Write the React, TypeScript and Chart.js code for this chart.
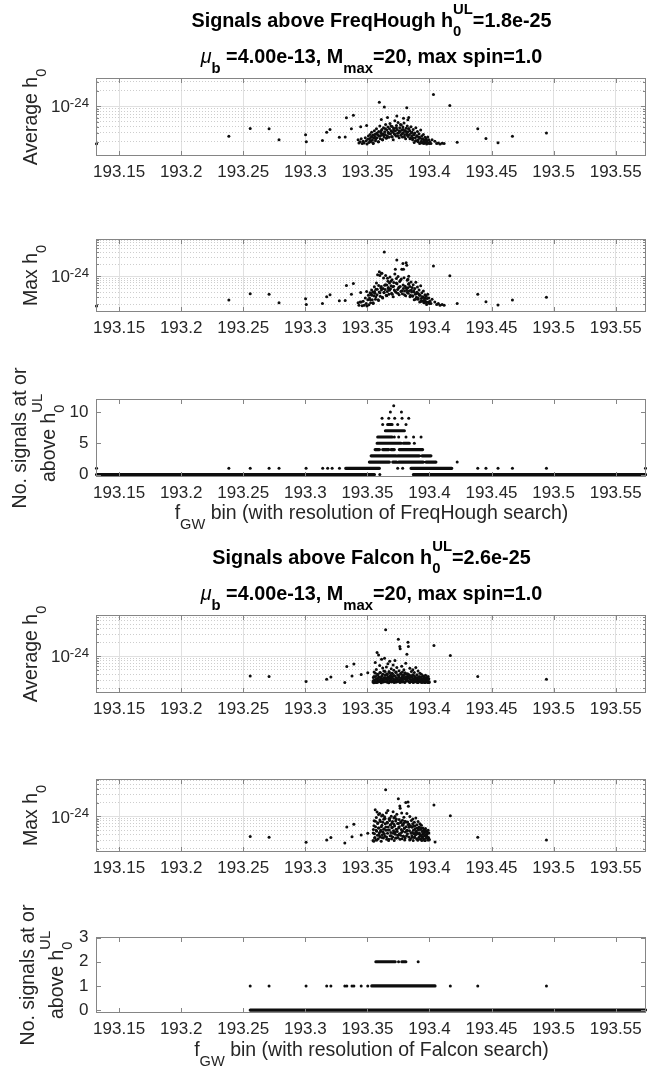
import React, { useEffect, useRef } from 'react';
import { Chart, registerables } from 'chart.js';

Chart.register(...registerables);

const FONT = '"Liberation Sans", Arial, Helvetica, sans-serif';
Chart.defaults.font.family = FONT;

// ---------- axis definitions ----------
const X_MIN = 193.1318;
const X_MAX = 193.574;
const X_TICKS = [193.15, 193.2, 193.25, 193.3, 193.35, 193.4, 193.45, 193.5, 193.55];
const X_TICK_LABELS = ['193.15', '193.2', '193.25', '193.3', '193.35', '193.4', '193.45', '193.5', '193.55'];
const LOG_GRID = [
  1e-25, 2e-25, 3e-25, 4e-25, 5e-25, 6e-25, 7e-25, 8e-25, 9e-25,
  1e-24, 2e-24, 3e-24, 4e-24, 5e-24, 6e-24, 7e-24, 8e-24, 9e-24,
];
const LOG_MAJOR = 1e-24;
const H0_UNIT = 1e-25; // h0 arrays below are in units of 1e-25

// ---------- FreqHough: per-bin average / max h0 ----------
const FH_F = [
  193.1318, 193.2384, 193.2556, 193.2708, 193.2788, 193.3002, 193.3008, 193.3138, 193.3172, 193.3199, 193.3274, 193.3321, 193.3331, 193.3371, 193.3387, 193.3446, 193.3494,
  193.3425, 193.3432, 193.3441, 193.3450, 193.3458, 193.3466, 193.3474, 193.3483, 193.3490, 193.3497, 193.3503,
  193.3508, 193.3512, 193.3517, 193.3521, 193.3526, 193.3530, 193.3534, 193.3539, 193.3543, 193.3547, 193.3552, 193.3556, 193.3560, 193.3565, 193.3569, 193.3573, 193.3578, 193.3582, 193.3587, 193.3591, 193.3595, 193.3600, 193.3604, 193.3608, 193.3613, 193.3617, 193.3621, 193.3626, 193.3630, 193.3634, 193.3639, 193.3643, 193.3647, 193.3652,
  193.3656, 193.3660, 193.3665, 193.3669, 193.3673, 193.3678, 193.3682, 193.3686, 193.3691, 193.3695, 193.3699, 193.3704, 193.3708, 193.3712, 193.3717, 193.3721, 193.3725, 193.3730, 193.3734, 193.3738, 193.3743, 193.3747, 193.3751, 193.3756, 193.3760, 193.3764, 193.3769, 193.3773, 193.3777, 193.3782, 193.3786, 193.3790, 193.3795, 193.3799, 193.3803, 193.3808, 193.3812, 193.3816, 193.3821, 193.3825, 193.3829, 193.3834, 193.3838, 193.3842, 193.3847, 193.3851,
  193.3856, 193.3860, 193.3864, 193.3869, 193.3873, 193.3877, 193.3882, 193.3886, 193.3890, 193.3895, 193.3899, 193.3903, 193.3908, 193.3912, 193.3916, 193.3921, 193.3925, 193.3929, 193.3934, 193.3938, 193.3942, 193.3947, 193.3951, 193.3955, 193.3960, 193.3964, 193.3968, 193.3973, 193.3977, 193.3981, 193.3986, 193.3990, 193.3994, 193.3999,
  193.4004, 193.4012, 193.4021, 193.4043, 193.4058, 193.4071, 193.4085, 193.4102, 193.4118,
  193.3596, 193.3636, 193.3737, 193.3817, 193.3612, 193.3662, 193.3791, 193.3826, 193.3833,
  193.4032, 193.4164, 193.4223, 193.4389, 193.4455, 193.4552, 193.4668, 193.4942,
  193.3524, 193.3535, 193.3546, 193.3557, 193.3568, 193.3579, 193.3590, 193.3601, 193.3611, 193.3623,
  193.3634, 193.3645, 193.3656, 193.3667, 193.3678, 193.3689, 193.3700, 193.3711, 193.3722, 193.3733,
  193.3744, 193.3755, 193.3766, 193.3777, 193.3788, 193.3799, 193.3810, 193.3821, 193.3832, 193.3843,
  193.3854, 193.3865, 193.3876, 193.3887, 193.3898, 193.3909, 193.3920, 193.3931, 193.3942, 193.3953,
  193.3964, 193.3975,
];
const FH_AVG = [
  1.83, 2.58, 3.65, 3.6, 2.19, 2.75, 2.0, 2.12, 3.09, 3.49, 2.47, 2.5, 5.93, 3.6, 6.67, 3.94, 4.2,
  2.2, 1.9, 2.0, 2.3, 1.85, 2.05, 1.9, 2.4, 2.1, 1.82, 2.25,
  2.6, 1.95, 2.3, 2.8, 2.0, 2.45, 3.1, 2.15, 2.7, 1.85, 2.35, 3.3, 2.55, 2.1, 2.9, 3.6, 2.4, 2.75, 2.0, 3.2, 2.6, 4.1, 2.3, 3.0, 2.7, 3.5, 2.2, 2.9, 3.8, 2.5, 3.15, 2.8, 4.4, 2.35,
  3.4, 2.65, 3.9, 3.0, 2.45, 3.6, 4.6, 2.9, 3.3, 2.55, 4.0, 3.1, 2.2, 3.7, 2.85, 5.2, 3.25, 2.6, 4.2, 3.5, 2.95, 4.8, 3.0, 2.4, 3.8, 3.2, 2.7, 4.3, 3.45, 2.5, 3.9, 3.05, 4.7, 2.75, 3.35, 2.3, 3.7, 2.9, 4.1, 3.15, 2.55, 3.6, 2.8, 3.3, 2.35, 3.95,
  2.6, 3.1, 2.2, 3.5, 2.75, 1.95, 3.0, 2.4, 3.8, 2.1, 2.65, 3.2, 2.0, 2.5, 2.9, 1.85, 2.35, 3.4, 2.05, 2.6, 1.9, 2.25, 2.8, 1.85, 2.15, 2.45, 1.95, 2.3, 1.82, 2.1, 2.5, 1.9, 2.2, 1.85,
  2.0, 1.85, 2.2, 2.05, 1.85, 1.9, 1.82, 1.88, 1.85,
  12.0, 9.7, 6.4, 9.3, 5.5, 6.0, 5.8, 5.4, 6.0,
  16.9, 10.3, 1.97, 3.6, 2.32, 1.92, 2.58, 3.0,
  2.1, 2.5, 1.9, 2.8, 2.3, 3.0, 2.0, 2.6, 3.3, 2.2,
  2.7, 3.6, 2.4, 3.1, 2.9, 4.1, 2.5, 3.4, 2.8, 3.8,
  2.6, 3.3, 4.4, 2.9, 3.5, 2.5, 3.2, 2.7, 3.6, 2.3,
  3.0, 2.4, 2.8, 2.1, 2.6, 2.2, 2.45, 1.95, 2.3, 2.0,
  2.15, 1.9,
];
const FH_MAX = [
  1.83, 2.58, 3.7, 3.6, 2.19, 2.75, 2.0, 2.12, 3.09, 3.49, 2.47, 2.5, 5.93, 3.6, 6.67, 3.94, 4.2,
  2.2, 1.9, 2.3, 2.3, 1.85, 2.4, 1.9, 2.9, 2.1, 1.82, 2.6,
  3.4, 1.95, 2.9, 3.9, 2.2, 3.6, 4.6, 2.6, 4.0, 2.1, 3.3, 5.5, 3.8, 2.7, 4.8, 6.8, 3.5, 11.0, 2.6, 5.9, 4.1, 10.5, 3.2, 5.2, 4.6, 12.0, 3.0, 5.0, 9.1, 3.9, 6.0, 4.7, 10.5, 3.4,
  6.1, 4.2, 7.5, 5.3, 3.6, 6.8, 9.6, 4.9, 5.8, 3.8, 8.2, 5.5, 3.1, 7.0, 4.6, 11.5, 15.0, 4.0, 8.8, 6.5, 4.7, 9.9, 5.1, 3.5, 7.4, 5.6, 4.2, 8.6, 15.0, 3.7, 21.0, 5.0, 9.2, 4.3, 5.7, 3.3, 22.0, 4.6, 8.0, 5.2, 3.8, 6.6, 4.4, 5.6, 3.4, 7.2,
  4.1, 5.3, 3.2, 6.2, 4.4, 2.6, 5.0, 3.6, 7.1, 3.0, 4.0, 5.4, 2.7, 3.7, 4.6, 2.3, 3.4, 5.8, 2.8, 3.9, 2.4, 3.1, 4.3, 2.2, 2.9, 3.5, 2.4, 3.2, 2.0, 2.8, 3.6, 2.3, 2.9, 2.1,
  2.4, 2.1, 2.7, 2.3, 2.0, 2.1, 1.9, 2.0, 1.9,
  13.0, 40.7, 25.5, 19.0, 12.0, 9.0, 15.0, 8.5, 10.0,
  18.0, 10.3, 2.1, 3.6, 2.32, 1.92, 2.58, 3.0,
  2.6, 3.4, 2.2, 4.2, 3.1, 4.8, 2.5, 3.9, 5.6, 2.9,
  4.0, 6.2, 3.3, 5.0, 4.5, 7.6, 3.6, 5.7, 4.3, 6.8,
  3.8, 5.4, 8.0, 4.4, 6.1, 3.5, 5.2, 4.0, 6.4, 3.1,
  4.6, 3.3, 4.1, 2.7, 3.8, 2.9, 3.4, 2.4, 3.0, 2.5,
  2.8, 2.2,
];

// FreqHough: number of signals per bin. Runs of adjacent bins [from, to, count] and single bins [f, count]
const FH_COUNT_RUNS = [
  [193.1318, 193.3557, 0], [193.3870, 193.5740, 0],
  [193.3325, 193.3597, 1], [193.3851, 193.4180, 1],
  [193.3516, 193.3677, 2], [193.3704, 193.3735, 2], [193.3752, 193.3950, 2], [193.3972, 193.4052, 2],
  [193.3530, 193.3731, 3], [193.3744, 193.3918, 3], [193.3940, 193.4012, 3],
  [193.3562, 193.3597, 4], [193.3623, 193.3671, 4], [193.3690, 193.3717, 4], [193.3757, 193.3945, 4],
  [193.3578, 193.3771, 5], [193.3790, 193.3838, 5],
  [193.3583, 193.3699, 6],
  [193.3645, 193.3798, 7],
  [193.3663, 193.3699, 8],
];
const FH_COUNT_DOTS = [
  [193.3600, 0],
  [193.1318, 1], [193.2384, 1], [193.2556, 1], [193.2708, 1], [193.2788, 1], [193.3006, 1], [193.3140, 1], [193.3180, 1], [193.3216, 1], [193.3275, 1],
  [193.3744, 1], [193.3784, 1], [193.4389, 1], [193.4455, 1], [193.4552, 1], [193.4668, 1], [193.4942, 1], [193.5740, 1],
  [193.4223, 2],
  [193.3878, 5],
  [193.3717, 6], [193.3752, 6], [193.3811, 6], [193.3872, 6], [193.3932, 6],
  [193.3623, 8], [193.3744, 8], [193.3811, 8],
  [193.3618, 9], [193.3672, 9], [193.3720, 9], [193.3779, 9], [193.3833, 9],
  [193.3685, 10], [193.3774, 10],
  [193.3712, 11],
];

// ---------- Falcon: per-bin average / max h0 ----------
const FC_F = [
  193.2556, 193.2708, 193.3006, 193.3172, 193.3206, 193.3318, 193.3334, 193.3376, 193.3391, 193.3450, 193.3503,
  193.3545, 193.3548, 193.3551, 193.3554, 193.3557, 193.3560, 193.3563, 193.3566, 193.3569, 193.3572,
  193.3575, 193.3578, 193.3581, 193.3584, 193.3587, 193.3590, 193.3593, 193.3596, 193.3599, 193.3602,
  193.3605, 193.3608, 193.3611, 193.3614, 193.3617, 193.3620, 193.3623, 193.3626, 193.3629, 193.3632,
  193.3635, 193.3638, 193.3641, 193.3644, 193.3647, 193.3650, 193.3653, 193.3656, 193.3659, 193.3662,
  193.3665, 193.3668, 193.3671, 193.3674, 193.3677, 193.3680, 193.3683, 193.3686, 193.3689, 193.3692,
  193.3695, 193.3698, 193.3701, 193.3704, 193.3707, 193.3710, 193.3713, 193.3716, 193.3719, 193.3722,
  193.3725, 193.3728, 193.3731, 193.3734, 193.3737, 193.3740, 193.3743, 193.3746, 193.3749, 193.3752,
  193.3755, 193.3758, 193.3761, 193.3764, 193.3767, 193.3770, 193.3773, 193.3776, 193.3779, 193.3782,
  193.3785, 193.3788, 193.3791, 193.3794, 193.3797, 193.3800, 193.3803, 193.3806, 193.3809, 193.3812,
  193.3815, 193.3818, 193.3821, 193.3824, 193.3827, 193.3830, 193.3833, 193.3836, 193.3839, 193.3842,
  193.3845, 193.3848, 193.3851, 193.3854, 193.3857, 193.3860, 193.3863, 193.3866, 193.3869, 193.3872,
  193.3875, 193.3878, 193.3881, 193.3884, 193.3887, 193.3890, 193.3893, 193.3896, 193.3899, 193.3902,
  193.3905, 193.3908, 193.3911, 193.3914, 193.3917, 193.3920, 193.3923, 193.3926, 193.3929, 193.3932,
  193.3935, 193.3938, 193.3941, 193.3944, 193.3947, 193.3950, 193.3953, 193.3956, 193.3959, 193.3962,
  193.3965, 193.3968, 193.3971, 193.3974, 193.3977, 193.3980, 193.3983, 193.3986, 193.3989, 193.3992,
  193.3995, 193.3998,
  193.4036, 193.4045, 193.4168, 193.4389, 193.4942,
  193.35465, 193.35525, 193.35585, 193.35645, 193.35705, 193.35765, 193.35825, 193.35885, 193.35945, 193.36005,
  193.36065, 193.36125, 193.36185, 193.36245, 193.36305, 193.36365, 193.36425, 193.36485, 193.36545, 193.36605,
  193.36665, 193.36725, 193.36785, 193.36845, 193.36905, 193.36965, 193.37025, 193.37085, 193.37145, 193.37205,
  193.37265, 193.37325, 193.37385, 193.37445, 193.37505, 193.37565, 193.37625, 193.37685, 193.37745, 193.37805,
  193.37865, 193.37925, 193.37985, 193.38045, 193.38105, 193.38165, 193.38225, 193.38285, 193.38345, 193.38405,
  193.38465, 193.38525, 193.38585, 193.38645, 193.38705, 193.38765, 193.38825, 193.38885, 193.38945, 193.39005,
  193.39065, 193.39125, 193.39185, 193.39245, 193.39305, 193.39365, 193.39425, 193.39485, 193.39545, 193.39605,
  193.39665, 193.39725, 193.39785, 193.39845, 193.39905, 193.39965,
];
const FC_AVG = [
  3.67, 3.56, 2.77, 3.1, 3.5, 2.66, 5.9, 3.65, 6.75, 3.97, 4.3,
  2.7, 3.4, 2.6, 4.5, 3.0, 2.8, 7.2, 3.6, 2.65, 5.1,
  3.2, 12.0, 2.9, 4.0, 2.7, 10.5, 3.5, 3.0, 6.2, 2.8,
  4.3, 3.3, 2.6, 8.5, 3.7, 2.9, 5.5, 3.1, 2.7, 4.7,
  3.4, 9.0, 2.8, 3.9, 37.5, 3.2, 5.8, 2.7, 4.1, 3.0,
  6.8, 3.5, 2.6, 4.6, 3.3, 7.7, 2.9, 3.8, 3.1, 5.3,
  2.7, 4.2, 3.6, 2.8, 6.4, 3.2, 4.9, 2.65, 3.7, 8.0,
  3.0, 4.4, 3.4, 2.7, 5.6, 3.1, 3.9, 2.8, 23.4, 3.5,
  4.8, 3.0, 16.2, 14.5, 2.9, 4.0, 3.3, 6.0, 2.7, 4.5,
  3.2, 3.8, 2.8, 5.0, 3.4, 2.65, 4.3, 3.1, 7.0, 3.6,
  2.9, 11.0, 3.3, 4.1, 20.0, 16.2, 2.8, 3.9, 3.2, 5.4,
  2.7, 3.7, 3.0, 4.6, 2.8, 3.5, 3.1, 5.0, 2.65, 3.8,
  3.0, 4.4, 2.8, 3.4, 2.9, 5.6, 3.2, 2.7, 3.9, 3.0,
  2.65, 4.7, 3.3, 2.8, 3.6, 3.0, 4.2, 2.7, 3.4, 2.9,
  4.0, 2.65, 3.2, 2.8, 3.7, 3.0, 2.7, 3.5, 2.9, 3.3,
  2.65, 3.8, 3.0, 2.75, 3.4, 2.9, 3.1, 2.65, 3.6, 2.8,
  3.2, 2.7,
  17.1, 2.8, 10.3, 3.56, 3.1,
  2.9, 3.6, 2.7, 4.2, 3.1, 2.65, 3.8, 3.3, 2.8, 4.4,
  3.0, 3.5, 2.7, 4.0, 3.2, 2.9, 4.6, 3.4, 2.75, 3.9,
  3.1, 2.65, 4.3, 3.6, 2.8, 3.3, 4.1, 2.9, 3.7, 3.0,
  2.7, 4.5, 3.2, 2.85, 3.8, 3.4, 2.65, 4.2, 3.0, 3.6,
  2.8, 3.9, 3.3, 2.7, 4.1, 3.1, 2.9, 3.7, 3.4, 2.65,
  3.5, 3.0, 2.8, 3.9, 3.2, 2.7, 3.6, 3.0, 2.9, 3.4,
  2.65, 3.3, 3.0, 2.8, 3.5, 2.9, 2.7, 3.2, 3.0, 2.65,
  3.3, 2.8, 3.0, 2.7, 3.1, 2.65,
];
const FC_MAX = [
  3.67, 3.56, 2.77, 3.1, 3.5, 2.66, 5.9, 3.65, 6.75, 3.97, 4.3,
  3.0, 5.2, 2.9, 8.1, 4.2, 3.5, 14.0, 6.0, 3.1, 9.5,
  4.8, 12.5, 3.9, 7.3, 3.3, 11.0, 5.6, 4.4, 11.5, 3.6,
  7.8, 5.0, 2.9, 10.2, 6.4, 4.0, 10.8, 4.6, 3.4, 8.7,
  5.4, 9.8, 3.7, 6.9, 38.0, 5.0, 12.0, 3.2, 7.5, 4.3,
  13.5, 5.9, 3.0, 8.9, 5.1, 9.0, 3.8, 6.6, 4.5, 10.1,
  3.3, 7.2, 5.8, 3.6, 12.6, 4.9, 9.3, 3.0, 6.2, 10.0,
  4.1, 8.0, 5.3, 3.4, 11.2, 4.7, 7.0, 3.5, 24.0, 5.7,
  8.6, 4.2, 16.8, 15.0, 3.9, 7.4, 5.2, 11.8, 3.3, 8.3,
  4.8, 6.5, 3.7, 9.6, 5.5, 3.1, 7.9, 4.6, 20.1, 6.0,
  3.8, 11.5, 5.0, 7.6, 20.5, 16.6, 3.6, 6.8, 4.9, 9.9,
  3.2, 6.1, 4.4, 8.2, 3.5, 5.8, 4.5, 8.8, 3.0, 6.3,
  4.2, 7.5, 3.6, 5.4, 4.0, 9.2, 4.8, 3.3, 6.6, 4.3,
  3.1, 7.8, 5.1, 3.5, 5.9, 4.1, 6.9, 3.2, 5.2, 3.9,
  6.4, 3.0, 4.7, 3.6, 5.6, 4.2, 3.3, 5.1, 3.8, 4.6,
  3.0, 5.5, 4.0, 3.4, 4.8, 3.7, 4.3, 3.1, 5.0, 3.5,
  4.4, 3.2,
  17.6, 2.8, 10.3, 3.56, 3.1,
  4.4, 6.3, 3.4, 7.9, 5.0, 3.1, 7.0, 5.6, 3.9, 8.4,
  4.7, 6.0, 3.5, 7.5, 5.3, 4.2, 9.0, 5.9, 3.6, 7.2,
  5.1, 3.2, 8.2, 6.5, 3.8, 5.7, 7.8, 4.3, 6.8, 4.6,
  3.4, 8.8, 5.2, 3.9, 7.0, 6.0, 3.2, 7.7, 4.5, 6.4,
  3.7, 7.1, 5.6, 3.4, 7.6, 4.9, 4.2, 6.7, 5.8, 3.1,
  6.1, 4.4, 3.8, 6.9, 5.0, 3.5, 6.2, 4.5, 4.1, 5.6,
  3.1, 5.3, 4.4, 3.7, 5.6, 4.0, 3.4, 4.9, 4.3, 3.0,
  5.0, 3.8, 4.2, 3.4, 4.4, 3.1,
];

// Falcon: number of signals per bin
const FC_COUNT_RUNS = [
  [193.2556, 193.5740, 0],
  [193.3535, 193.4045, 1],
  [193.3568, 193.3724, 2], [193.3777, 193.3810, 2],
];
const FC_COUNT_DOTS = [
  [193.2556, 1], [193.2708, 1], [193.3006, 1], [193.3172, 1], [193.3206, 1], [193.3318, 1], [193.3334, 1],
  [193.3376, 1], [193.3391, 1], [193.3450, 1], [193.3503, 1], [193.4168, 1], [193.4389, 1], [193.4942, 1],
  [193.3751, 2], [193.3909, 2],
];

// ---------- styles ----------
const MARK = '#0d0d0d';
const AXIS_COLOR = '#858585';
const TEXT = '#262626';
const GRID_MAJOR = '#e0e0e0';
const GRID_MINOR = '#cdcdcd';
const TICK_FS = 17;
const LABEL_FS = 19.5;
const TITLE_FS = 19.8;
const SCRIPT = 0.75;
const Y_AXIS_W = 96.5;
const X_AXIS_H = 30;
const PAGE_W = 647;

// ---------- text tokens ----------
const TITLE_FH = [{ t: 'Signals above FreqHough h' }, { sub: '0', sup: 'UL' }, { t: '=1.8e-25' }];
const TITLE_FC = [{ t: 'Signals above Falcon h' }, { sub: '0', sup: 'UL' }, { t: '=2.6e-25' }];
const SUBTITLE = [{ t: 'μ', it: true, nb: true }, { sub: 'b' }, { t: ' =4.00e-13, M' }, { sub: 'max' }, { t: '=20, max spin=1.0' }];
const YL_AVG = [{ t: 'Average h' }, { sub: '0' }];
const YL_MAX = [{ t: 'Max h' }, { sub: '0' }];
const YL_N1 = [{ t: 'No. signals at or' }];
const YL_N2 = [{ t: 'above h' }, { sub: '0', sup: 'UL' }];
const XL_FH = [{ t: 'f' }, { sub: 'GW' }, { t: ' bin (with resolution of FreqHough search)' }];
const XL_FC = [{ t: 'f' }, { sub: 'GW' }, { t: ' bin (with resolution of Falcon search)' }];
const YT_LOG = [{ t: '10' }, { sup: '-24', sc: 0.78 }];

function fnt(size: number, bold: boolean, it?: boolean) {
  return `${it ? 'italic ' : ''}${bold ? 'bold ' : ''}${size}px ${FONT}`;
}
function tokW(ctx: any, k: any, size: number, bold: boolean) {
  if (k.t !== undefined) {
    ctx.font = fnt(size, bold && !k.nb, k.it);
    return ctx.measureText(k.t).width;
  }
  ctx.font = fnt(size * (k.sc || SCRIPT), bold, false);
  return Math.max(k.sub ? ctx.measureText(k.sub).width : 0, k.sup ? ctx.measureText(k.sup).width : 0);
}
function drawRich(ctx: any, toks: any[], x: number, y: number, size: number, bold: boolean, align: string, color: string) {
  const widths = toks.map((k) => tokW(ctx, k, size, bold));
  const total = widths.reduce((a, b) => a + b, 0);
  let cx = align === 'center' ? x - total / 2 : align === 'right' ? x - total : x;
  ctx.fillStyle = color;
  ctx.textAlign = 'left';
  ctx.textBaseline = 'alphabetic';
  toks.forEach((k, i) => {
    if (k.t !== undefined) {
      ctx.font = fnt(size, bold && !k.nb, k.it);
      ctx.fillText(k.t, cx, y);
    } else {
      ctx.font = fnt(size * (k.sc || SCRIPT), bold, false);
      if (k.sub) ctx.fillText(k.sub, cx, y + 0.5 * size);
      if (k.sup) ctx.fillText(k.sup, cx, y + (k.sub ? -0.62 : -0.32) * size);
    }
    cx += widths[i];
  });
}

// ---------- datasets ----------
function scatterDs(xs: number[], ys: number[], unit: number) {
  return {
    data: xs.map((x, i) => ({ x, y: ys[i] * unit })),
    showLine: false,
    pointRadius: 1.5,
    pointHoverRadius: 1.5,
    pointBackgroundColor: MARK,
    pointBorderWidth: 0,
    borderWidth: 0,
    clip: 4,
  };
}
function runDs(runs: number[][]) {
  return {
    data: runs.flatMap(([a, b, c]) => [{ x: a, y: c }, { x: b, y: c }, { x: b, y: NaN }]),
    showLine: true,
    spanGaps: false,
    borderColor: MARK,
    borderWidth: 3.1,
    borderCapStyle: 'round',
    pointRadius: 0,
    pointHoverRadius: 0,
    clip: 4,
  };
}
function dotDs(dots: number[][]) {
  return scatterDs(dots.map((d) => d[0]), dots.map((d) => d[1]), 1);
}

// ---------- panel layout ----------
const PANELS: any[] = [
  {
    band: [0, 200], box: [78.5, 155.5], log: true, yMin: 1.08e-25, yMax: 3.5e-24, grid: true,
    datasets: [scatterDs(FH_F, FH_AVG, H0_UNIT)],
    titles: [{ toks: TITLE_FH, y: 26.5 }, { toks: SUBTITLE, y: 63.3 }],
    ylabel: [{ toks: YL_AVG, x: 36.5 }],
  },
  {
    band: [200, 360], box: [239.5, 311.5], log: true, yMin: 1.33e-25, yMax: 8.3e-24, grid: true,
    datasets: [scatterDs(FH_F, FH_MAX, H0_UNIT)],
    ylabel: [{ toks: YL_MAX, x: 36.5 }],
  },
  {
    band: [360, 537], box: [399.5, 476.5], log: false, yMin: -0.3, yMax: 12, yTicks: [0, 5, 10], grid: false,
    datasets: [runDs(FH_COUNT_RUNS), dotDs(FH_COUNT_DOTS)],
    ylabel: [{ toks: YL_N1, x: 25.5 }, { toks: YL_N2, x: 54.5 }],
    xlabel: { toks: XL_FH, y: 519 },
  },
  {
    band: [537, 737], box: [615.5, 692.5], log: true, yMin: 1.6e-25, yMax: 7.7e-24, grid: true,
    datasets: [scatterDs(FC_F, FC_AVG, H0_UNIT)],
    titles: [{ toks: TITLE_FC, y: 563.5 }, { toks: SUBTITLE, y: 600.3 }],
    ylabel: [{ toks: YL_AVG, x: 36.5 }],
  },
  {
    band: [737, 897], box: [779.5, 851.5], log: true, yMin: 1.74e-25, yMax: 6.3e-24, grid: true,
    datasets: [scatterDs(FC_F, FC_MAX, H0_UNIT)],
    ylabel: [{ toks: YL_MAX, x: 36.5 }],
  },
  {
    band: [897, 1070], box: [937.5, 1012.5], log: false, yMin: -0.1, yMax: 3, yTicks: [0, 1, 2, 3], grid: false,
    datasets: [runDs(FC_COUNT_RUNS), dotDs(FC_COUNT_DOTS)],
    ylabel: [{ toks: YL_N1, x: 33.5 }, { toks: YL_N2, x: 62.5 }],
    xlabel: { toks: XL_FC, y: 1056 },
  },
];

function axesPlugin(p: any) {
  return {
    id: 'matlabAxes',
    afterDraw(chart: any) {
      const { ctx, chartArea: a, scales } = chart;
      const xs = scales.x;
      const ys = scales.y;
      ctx.save();
      ctx.strokeStyle = AXIS_COLOR;
      ctx.lineWidth = 1;
      ctx.beginPath();
      const TL = 4.5;
      X_TICKS.forEach((v) => {
        const px = Math.round(xs.getPixelForValue(v)) + 0.5;
        ctx.moveTo(px, a.bottom); ctx.lineTo(px, a.bottom - TL);
        ctx.moveTo(px, a.top); ctx.lineTo(px, a.top + TL);
      });
      const yVals = p.log ? LOG_GRID.filter((v) => v >= p.yMin && v <= p.yMax) : p.yTicks;
      yVals.forEach((v: number) => {
        const py = Math.round(ys.getPixelForValue(v)) + 0.5;
        const len = p.log && v !== LOG_MAJOR ? 2.5 : TL;
        ctx.moveTo(a.left, py); ctx.lineTo(a.left + len, py);
        ctx.moveTo(a.right, py); ctx.lineTo(a.right - len, py);
      });
      ctx.stroke();
      ctx.strokeRect(a.left, a.top, a.right - a.left, a.bottom - a.top);
      if (p.log) {
        const py = ys.getPixelForValue(LOG_MAJOR);
        drawRich(ctx, YT_LOG, a.left - 7.5, py + 6.1, TICK_FS, false, 'right', TEXT);
      }
      ctx.restore();
    },
  };
}

function textPlugin(p: any) {
  return {
    id: 'matlabText',
    afterDraw(chart: any) {
      const { ctx } = chart;
      const top = p.band[0];
      const cxMid = (Y_AXIS_W + (PAGE_W - 0.5)) / 2;
      ctx.save();
      (p.titles || []).forEach((ti: any) => drawRich(ctx, ti.toks, cxMid, ti.y - top, TITLE_FS, true, 'center', '#000'));
      const yc = (p.box[0] + p.box[1]) / 2 - top;
      (p.ylabel || []).forEach((yl: any) => {
        ctx.save();
        ctx.translate(yl.x, yc);
        ctx.rotate(-Math.PI / 2);
        drawRich(ctx, yl.toks, 0, 0, LABEL_FS, false, 'center', TEXT);
        ctx.restore();
      });
      if (p.xlabel) drawRich(ctx, p.xlabel.toks, cxMid, p.xlabel.y - top, LABEL_FS, false, 'center', TEXT);
      ctx.restore();
    },
  };
}

function buildConfig(p: any): any {
  const bandH = p.band[1] - p.band[0];
  const padTop = p.box[0] - p.band[0];
  const padBottom = bandH - (p.box[1] - p.band[0]) - X_AXIS_H;
  const yScale: any = p.log
    ? {
        type: 'logarithmic',
        min: p.yMin,
        max: p.yMax,
        bounds: 'data',
        afterBuildTicks: (s: any) => {
          s.ticks = LOG_GRID.filter((v) => v >= p.yMin && v <= p.yMax).map((v) => ({ value: v, major: v === LOG_MAJOR }));
        },
        ticks: { display: false },
        grid: {
          display: true,
          drawTicks: false,
          lineWidth: 1,
          color: (c: any) => (c.tick && c.tick.value === LOG_MAJOR ? GRID_MAJOR : GRID_MINOR),
        },
        border: {
          display: false,
          dash: (c: any) => (c.tick && c.tick.value === LOG_MAJOR ? [] : [1, 2]),
        },
        afterFit: (s: any) => { s.width = Y_AXIS_W; s.paddingTop = 0; s.paddingBottom = 0; },
      }
    : {
        type: 'linear',
        min: p.yMin,
        max: p.yMax,
        bounds: 'data',
        afterBuildTicks: (s: any) => { s.ticks = p.yTicks.map((v: number) => ({ value: v })); },
        ticks: { display: true, padding: 8, color: TEXT, font: { size: TICK_FS, family: FONT }, callback: (v: any) => String(v) },
        grid: { display: false, drawTicks: false },
        border: { display: false },
        afterFit: (s: any) => { s.width = Y_AXIS_W; s.paddingTop = 0; s.paddingBottom = 0; },
      };
  return {
    type: 'scatter',
    data: { datasets: p.datasets },
    options: {
      animation: false,
      responsive: false,
      devicePixelRatio: 1,
      events: [],
      layout: { padding: { top: padTop, bottom: padBottom, left: 0, right: 0.5 } },
      plugins: { legend: { display: false }, tooltip: { enabled: false }, title: { display: false } },
      scales: {
        x: {
          type: 'linear',
          position: 'bottom',
          min: X_MIN,
          max: X_MAX,
          bounds: 'data',
          afterBuildTicks: (s: any) => { s.ticks = X_TICKS.map((v) => ({ value: v })); },
          ticks: {
            autoSkip: false,
            maxRotation: 0,
            minRotation: 0,
            padding: 7,
            color: TEXT,
            font: { size: TICK_FS, family: FONT },
            callback: (v: any) => {
              const i = X_TICKS.findIndex((t) => Math.abs(t - v) < 1e-7);
              return i >= 0 ? X_TICK_LABELS[i] : '';
            },
          },
          grid: { display: p.grid, drawTicks: false, color: GRID_MAJOR, lineWidth: 1 },
          border: { display: false },
          afterFit: (s: any) => { s.height = X_AXIS_H; s.paddingLeft = 0; s.paddingRight = 0; },
        },
        y: yScale,
      },
    },
    plugins: [axesPlugin(p), textPlugin(p)],
  };
}

export default function App() {
  const refs = useRef<(HTMLCanvasElement | null)[]>([]);
  useEffect(() => {
    const charts = PANELS.map((p, i) => new Chart(refs.current[i] as HTMLCanvasElement, buildConfig(p)));
    return () => charts.forEach((c) => c.destroy());
  }, []);
  return (
    <div style={{ position: 'absolute', left: 0, top: 0, width: PAGE_W, height: 1070, background: '#fff' }}>
      {PANELS.map((p, i) => (
        <canvas
          key={i}
          ref={(el) => { refs.current[i] = el; }}
          width={PAGE_W}
          height={p.band[1] - p.band[0]}
          style={{ position: 'absolute', left: 0, top: p.band[0], width: PAGE_W, height: p.band[1] - p.band[0], display: 'block' }}
        />
      ))}
    </div>
  );
}
